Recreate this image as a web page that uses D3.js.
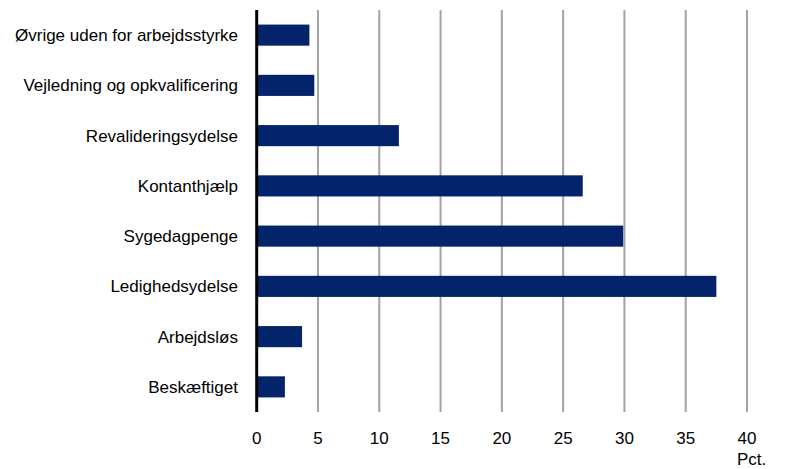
<!DOCTYPE html>
<html><head><meta charset="utf-8">
<script src="https://cdn.jsdelivr.net/npm/d3@7"></script>
<style>body{margin:0;background:#fff}svg{display:block}text{font-family:"Liberation Sans",Arial,sans-serif;fill:#000}</style>
</head><body><div id="c"></div>
<script>
const categories = ["Øvrige uden for arbejdsstyrke","Vejledning og opkvalificering","Revalideringsydelse","Kontanthjælp","Sygedagpenge","Ledighedsydelse","Arbejdsløs","Beskæftiget"];
const values = [4.3, 4.7, 11.6, 26.6, 29.9, 37.5, 3.7, 2.3];
const tickValues = [0,5,10,15,20,25,30,35,40];
const unitLabel = "Pct.";

const W=795,H=469;
const svg=d3.select("#c").append("svg").attr("width",W).attr("height",H);
const x=d3.scaleLinear().domain([0,40]).range([256.7,747]);
const y=d3.scaleBand().domain(categories).range([10,412]).paddingInner(0.58).paddingOuter(0.29);

svg.append("g").selectAll("line").data(tickValues.filter(d=>d>0)).join("line")
  .attr("x1",d=>x(d)).attr("x2",d=>x(d)).attr("y1",10).attr("y2",412)
  .attr("stroke","#a3a3a3").attr("stroke-width",2);

svg.append("g").selectAll("rect").data(values).join("rect")
  .attr("x",x(0)).attr("y",(d,i)=>y(categories[i]))
  .attr("width",d=>x(d)-x(0)).attr("height",y.bandwidth())
  .attr("fill","#03246a");

svg.append("line").attr("x1",x(0)).attr("x2",x(0)).attr("y1",10).attr("y2",412)
  .attr("stroke","#000").attr("stroke-width",3);

svg.append("g").selectAll("text").data(categories).join("text")
  .attr("x",238).attr("y",d=>y(d)+y.bandwidth()/2).attr("dy","0.36em")
  .attr("text-anchor","end").attr("font-size",17).text(d=>d);

svg.append("g").selectAll("text").data(tickValues).join("text")
  .attr("x",d=>x(d)).attr("y",444).attr("text-anchor","middle").attr("font-size",17).text(d=>d);

svg.append("text").attr("x",x(40)-10).attr("y",465).attr("font-size",17).text(unitLabel);
</script></body></html>
